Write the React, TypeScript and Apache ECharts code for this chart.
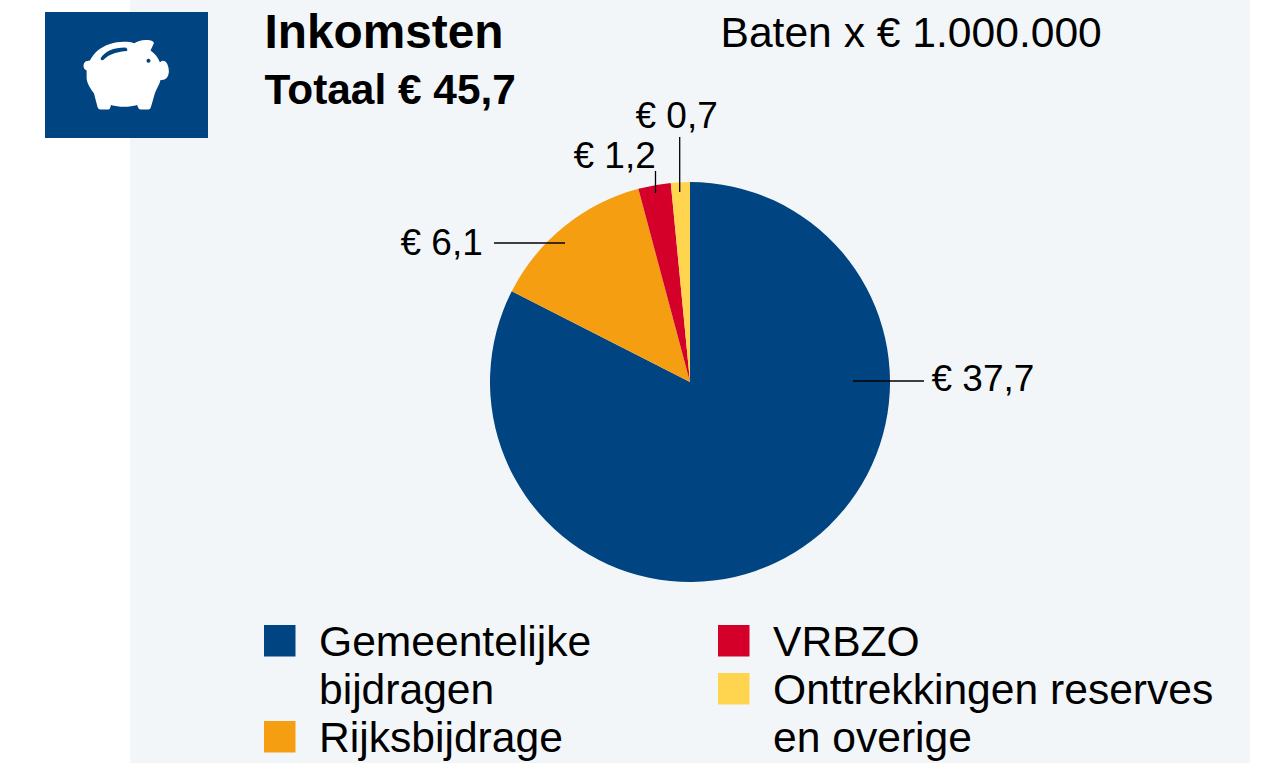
import React, { useEffect, useRef } from "react";
import * as echarts from "echarts";

const categories = ["Gemeentelijke bijdragen", "Rijksbijdrage", "VRBZO", "Onttrekkingen reserves en overige"];
const values = [37.7, 6.1, 1.2, 0.7];
const colors = ["#004481", "#f59e12", "#d50029", "#ffd44f"];
const legendLines = ["Gemeentelijke\nbijdragen", "Rijksbijdrage", "VRBZO", "Onttrekkingen reserves\nen overige"];
const legendSlots = [[264, 625], [264, 721], [718, 625], [718, 673]];
const labelSlots = [[931.5, 378], [400.5, 242], [573.5, 155], [635.5, 115]];
const leaders = [[853, 381, 924, 381], [494, 243, 565, 243], [655.5, 171, 655.5, 193], [679.7, 137, 679.7, 192]];
const titleText = "Inkomsten";
const totalText = "Totaal € 45,7";
const unitText = "Baten x € 1.000.000";

const FONT = '"Liberation Sans", Arial, sans-serif';
const PIG = "M172,183 C160,183 155,205 170,212 L170,235 C172,255 185,270 192,280 L203,322 Q205,329 212,329 L235,329 Q241,329 243,315 C265,322 300,322 322,315 Q325,329 333,329 L355,329 Q361,329 363,322 L375,280 C382,262 390,250 392,240 C405,242 416,235 417,215 C417,195 408,180 396,183 L390,187 C385,175 375,160 362,152 L372,130 Q372,124 360,121 C340,118 325,122 313,130 C295,124 265,124 240,132 C210,142 190,160 180,182 Z";
const SLOT = "M212,175 C225,155 250,143 287,143 Q294,146 292,153 C265,155 240,160 220,180 Q212,183 212,175 Z";
echarts.graphic.registerShape("pig", echarts.graphic.extendPath(PIG, {}));
echarts.graphic.registerShape("pigslot", echarts.graphic.extendPath(SLOT, {}));

export default function App() {
  const ref = useRef<HTMLDivElement>(null);
  useEffect(() => {
    document.body.style.margin = "0";
    const chart = echarts.init(ref.current!, undefined, { renderer: "svg" });
    const iconTf = { x: 30, y: 0, scaleX: 1 / 3, scaleY: 1 / 3 };
    const graphic: any[] = [
      { type: "rect", shape: { x: 45, y: 12, width: 163, height: 126 }, style: { fill: "#004481" } },
      { type: "pig", ...iconTf, style: { fill: "#ffffff" } },
      { type: "pigslot", ...iconTf, style: { fill: "#004481" } },
      { type: "circle", shape: { cx: 148.5, cy: 60.7, r: 2 }, style: { fill: "#004481" } },
      { type: "text", x: 264.5, y: 31, style: { text: titleText, font: `bold 47.8px ${FONT}`, fill: "#000", verticalAlign: "middle" } },
      { type: "text", x: 264.5, y: 89, style: { text: totalText, font: `bold 42.4px ${FONT}`, fill: "#000", verticalAlign: "middle" } },
      { type: "text", x: 720.5, y: 32, style: { text: unitText, font: `42.6px ${FONT}`, fill: "#000", verticalAlign: "middle" } },
      ...leaders.map((l) => ({
        type: "line", z: 20,
        shape: { x1: l[0], y1: l[1], x2: l[2], y2: l[3] },
        style: { stroke: "#000", lineWidth: 1.3 },
      })),
      ...categories.map((_, i) => ({
        type: "rect",
        shape: { x: legendSlots[i][0], y: legendSlots[i][1], width: 31.5, height: 31.5 },
        style: { fill: colors[i] },
      })),
      ...categories.map((_, i) => ({
        type: "text", x: legendSlots[i][0] + 55, y: legendSlots[i][1] - 8,
        style: { text: legendLines[i], font: `42.6px ${FONT}`, lineHeight: 48, fill: "#000", verticalAlign: "top" },
      })),
    ];
    chart.setOption({
      animation: false,
      graphic,
      series: [
        {
          type: "pie",
          center: [690, 382],
          radius: [0, 200],
          startAngle: 90,
          clockwise: true,
          silent: true,
          itemStyle: { borderWidth: 0 },
          label: {
            show: true,
            position: "outside",
            fontFamily: FONT,
            fontSize: 37,
            color: "#000",
            formatter: (p: any) => "€ " + String(p.value).replace(".", ","),
          },
          labelLine: { show: false },
          labelLayout: (p: any) => ({
            x: labelSlots[p.dataIndex][0],
            y: labelSlots[p.dataIndex][1],
            align: "left",
            verticalAlign: "middle",
          }),
          data: categories.map((name, i) => ({ name, value: values[i], itemStyle: { color: colors[i] } })),
        },
      ],
    });
    return () => chart.dispose();
  }, []);
  return (
    <div style={{ position: "absolute", left: 0, top: 0, width: 1275, height: 763, overflow: "hidden", background: "#fff" }}>
      <div style={{ position: "absolute", left: 130, top: 0, width: 1120, height: 763, background: "#f3f6f9" }} />
      <div ref={ref} style={{ position: "absolute", left: 0, top: 0, width: 1275, height: 763 }} />
    </div>
  );
}
